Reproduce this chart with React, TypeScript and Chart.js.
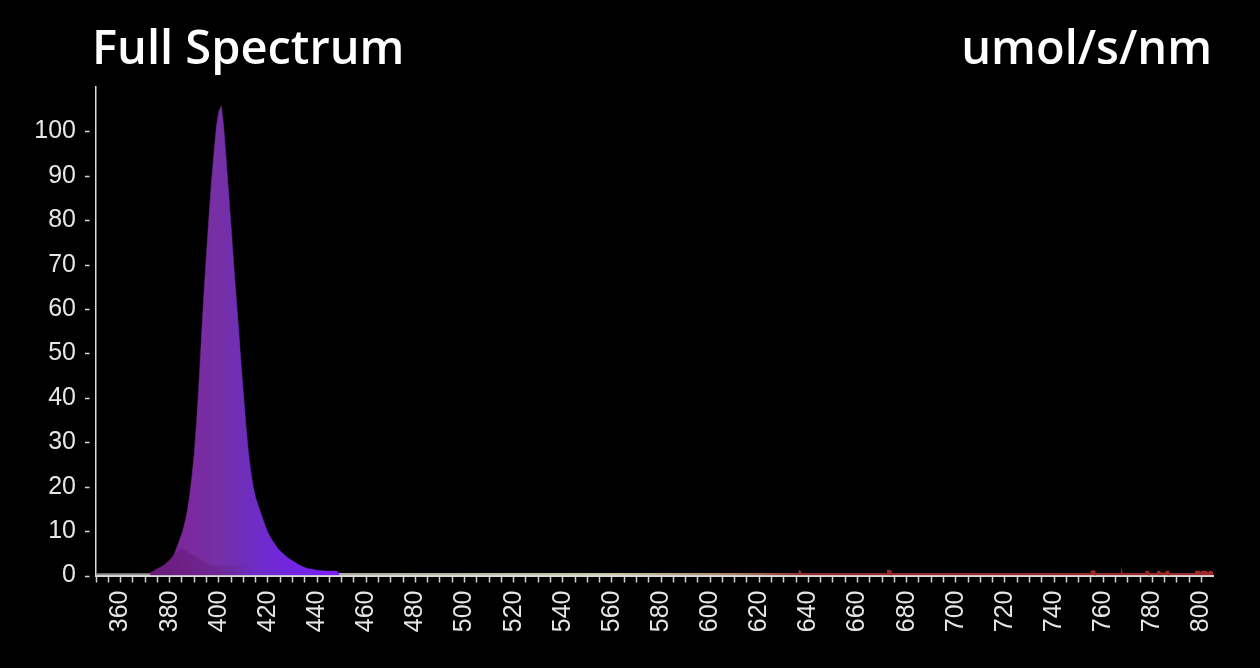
import { useEffect, useRef } from "react";
import { Chart, registerables } from "chart.js";

Chart.register(...registerables);

const TITLE = "Full Spectrum";
const UNIT = "umol/s/nm";

// Main emission peak (nm, umol/s/nm)
const PEAK_WAVELENGTHS = [
  372, 373, 374, 375, 376, 377, 378, 379, 380, 381, 382, 383, 384, 385, 386, 387, 388, 389, 390,
  391, 392, 393, 394, 395, 396, 397, 398, 399, 400, 401, 402, 403, 404, 405, 406, 407, 408, 409,
  410, 411, 412, 413, 414, 415, 416, 417, 418, 419, 420, 421, 422, 423, 424, 425, 426, 427, 428,
  429, 430, 431, 432, 433, 434, 435, 436, 437, 438, 439, 440, 441, 442, 443, 444, 445, 446, 447,
  448, 449,
];
const PEAK_VALUES = [
  0.6, 0.9, 1.2, 1.5, 1.8, 2.1, 2.5, 3.0, 3.5, 4.1, 5.0, 6.5, 8.0, 9.5, 11.5, 14.0, 17.5, 22.0, 27.5,
  35.0, 44.0, 54.5, 64.0, 72.5, 81.0, 88.5, 95.0, 101.0, 104.5, 105.7, 101.0, 93.5, 86.0, 78.5, 70.5, 63.0, 56.0, 48.0,
  41.0, 34.0, 28.0, 23.5, 20.0, 17.5, 15.8, 14.2, 12.6, 11.0, 9.6, 8.6, 7.7, 6.9, 6.1, 5.5, 5.0, 4.5, 4.0,
  3.6, 3.3, 3.0, 2.6, 2.3, 2.0, 1.8, 1.6, 1.5, 1.4, 1.3, 1.2, 1.1, 1.1, 1.0, 1.0, 1.0, 1.0, 1.0,
  1.0, 0.4,
];

// Darker lower shading inside the peak
const SHADE_WAVELENGTHS = [372, 378, 382, 385, 389, 393, 397, 405, 415];
const SHADE_VALUES = [0.6, 2.5, 5.0, 6.1, 4.8, 3.5, 2.2, 2.2, 2.2];

// Baseline over the full range, with small red bumps
const TAIL_WAVELENGTHS = [
  350, 372, 450, 500, 550, 600, 636, 636.5, 637, 672, 672.3, 673.3, 673.6, 755, 755.3, 756.3, 756.6,
  767.3, 767.5, 767.7, 777.3, 777.5, 778.3, 778.5, 782, 782.2, 782.8, 783, 785.5, 785.7, 786.5, 786.7,
  797.5, 797.7, 799, 799.5, 800.5, 802, 802.3, 803.5, 804, 804.7,
];
const TAIL_VALUES = [
  0.35, 0.35, 0.4, 0.4, 0.4, 0.4, 0.4, 1.0, 0.4, 0.4, 1.1, 1.1, 0.4, 0.4, 1.0, 1.0, 0.4,
  0.4, 0.8, 0.4, 0.4, 0.9, 0.9, 0.4, 0.4, 0.9, 0.9, 0.5, 0.5, 0.9, 0.9, 0.4,
  0.4, 0.9, 0.9, 0.6, 0.9, 0.9, 0.5, 0.9, 0.9, 0.5,
];

const X_MIN = 350;
const X_MAX = 804.7;
const X_STEP = 5;
const X_LABEL_EVERY = 20;
const Y_MIN = 0;
const Y_MAX = 110;
const Y_STEP = 10;
const Y_LAST_LABEL = 100;

const PEAK_STOPS: [number, string][] = [
  [372, "rgb(118,36,140)"],
  [388, "rgb(122,42,158)"],
  [400, "rgb(118,48,165)"],
  [410, "rgb(110,46,185)"],
  [420, "rgb(112,42,210)"],
  [435, "rgb(118,34,235)"],
  [450, "rgb(125,30,245)"],
];
const SHADE_STOPS: [number, string][] = [
  [372, "rgba(70,0,60,0.25)"],
  [398, "rgba(70,0,60,0.18)"],
  [415, "rgba(70,0,60,0)"],
];
const TAIL_STOPS: [number, string][] = [
  [350, "rgb(140,140,140)"],
  [450, "rgb(170,170,160)"],
  [560, "rgb(200,200,160)"],
  [610, "rgb(170,130,100)"],
  [640, "rgb(150,40,40)"],
  [805, "rgb(160,40,40)"],
];

function spectrumGradient(chart: any, stops: [number, string][]) {
  const { ctx, chartArea, scales } = chart;
  if (!chartArea || !scales.x) return stops[0][1];
  const sx = scales.x;
  const x0 = sx.getPixelForValue(stops[0][0]);
  const x1 = sx.getPixelForValue(stops[stops.length - 1][0]);
  const g = ctx.createLinearGradient(x0, 0, x1, 0);
  for (const [nm, c] of stops) {
    const t = (sx.getPixelForValue(nm) - x0) / (x1 - x0);
    g.addColorStop(Math.min(1, Math.max(0, t)), c);
  }
  return g;
}

const titlePlugin = {
  id: "titles",
  afterDraw(chart: any) {
    const { ctx } = chart;
    ctx.save();
    ctx.fillStyle = "#ffffff";
    ctx.font = "600 47px 'Open Sans'";
    ctx.textBaseline = "alphabetic";
    ctx.textAlign = "left";
    ctx.fillText(TITLE, 92, 64);
    ctx.textAlign = "right";
    ctx.fillText(UNIT, 1212, 64);
    ctx.restore();
  },
};

const yDashPlugin = {
  id: "yDashes",
  afterDraw(chart: any) {
    const { ctx, scales } = chart;
    const sy = scales.y;
    ctx.save();
    ctx.strokeStyle = "#dcdcdc";
    ctx.lineWidth = 1.5;
    for (const t of sy.ticks) {
      if (t.value > Y_LAST_LABEL) continue;
      const y = Math.round(sy.getPixelForValue(t.value)) + 0.5;
      ctx.beginPath();
      ctx.moveTo(85, y);
      ctx.lineTo(89.5, y);
      ctx.stroke();
    }
    ctx.restore();
  },
};

export default function App() {
  const ref = useRef<HTMLCanvasElement | null>(null);

  useEffect(() => {
    document.body.style.margin = "0";
    document.body.style.background = "#000";
    const canvas = ref.current;
    if (!canvas) return;

    const toXY = (xs: number[], ys: number[]) => xs.map((x, i) => ({ x, y: ys[i] }));

    const chart = new Chart(canvas, {
      type: "line",
      data: {
        datasets: [
          {
            label: "shade",
            data: toXY(SHADE_WAVELENGTHS, SHADE_VALUES),
            order: 0,
            fill: "origin",
            borderWidth: 0,
            pointRadius: 0,
            backgroundColor: (c: any) => spectrumGradient(c.chart, SHADE_STOPS),
            borderColor: "rgba(0,0,0,0)",
          },
          {
            label: "peak",
            data: toXY(PEAK_WAVELENGTHS, PEAK_VALUES),
            order: 1,
            fill: "origin",
            borderWidth: 0.5,
            pointRadius: 0,
            backgroundColor: (c: any) => spectrumGradient(c.chart, PEAK_STOPS),
            borderColor: (c: any) => spectrumGradient(c.chart, PEAK_STOPS),
          },
          {
            label: "tail",
            data: toXY(TAIL_WAVELENGTHS, TAIL_VALUES),
            order: 2,
            fill: "origin",
            borderWidth: 1.5,
            pointRadius: 0,
            backgroundColor: (c: any) => spectrumGradient(c.chart, TAIL_STOPS),
            borderColor: (c: any) => spectrumGradient(c.chart, TAIL_STOPS),
          },
        ],
      },
      options: {
        responsive: false,
        animation: false,
        layout: { padding: { top: 87, right: 47, left: 0, bottom: 0 } },
        plugins: {
          legend: { display: false },
          tooltip: { enabled: false },
          title: { display: false },
        },
        scales: {
          x: {
            type: "linear",
            min: X_MIN,
            max: X_MAX,
            afterFit: (s: any) => {
              s.height = 92.5;
            },
            border: { display: true, color: "#dcdcdc", width: 2 },
            grid: {
              drawOnChartArea: false,
              drawTicks: true,
              tickLength: 7,
              tickWidth: 1.5,
              tickColor: "#cfcfcf",
              color: "#cfcfcf",
            },
            ticks: {
              stepSize: X_STEP,
              includeBounds: false,
              autoSkip: false,
              minRotation: 90,
              maxRotation: 90,
              padding: 8,
              color: "#e6e6e6",
              font: { family: "'Liberation Sans', Arial, sans-serif", size: 25 },
              callback: (v: any) => (Number(v) % X_LABEL_EVERY === 0 ? String(v) : ""),
            },
          },
          y: {
            type: "linear",
            min: Y_MIN,
            max: Y_MAX,
            afterFit: (s: any) => {
              s.width = 96;
            },
            border: { display: true, color: "#dcdcdc", width: 1.5 },
            grid: { drawOnChartArea: false, drawTicks: false },
            ticks: {
              stepSize: Y_STEP,
              padding: 20,
              color: "#e6e6e6",
              font: { family: "'Liberation Sans', Arial, sans-serif", size: 25 },
              callback: (v: any) => (Number(v) <= Y_LAST_LABEL ? String(v) : ""),
            },
          },
        },
      },
      plugins: [titlePlugin, yDashPlugin],
    } as any);

    return () => chart.destroy();
  }, []);

  return (
    <div style={{ position: "fixed", left: 0, top: 0, width: 1260, height: 668, background: "#000" }}>
      <canvas ref={ref} width={1260} height={668} style={{ display: "block" }} />
    </div>
  );
}
